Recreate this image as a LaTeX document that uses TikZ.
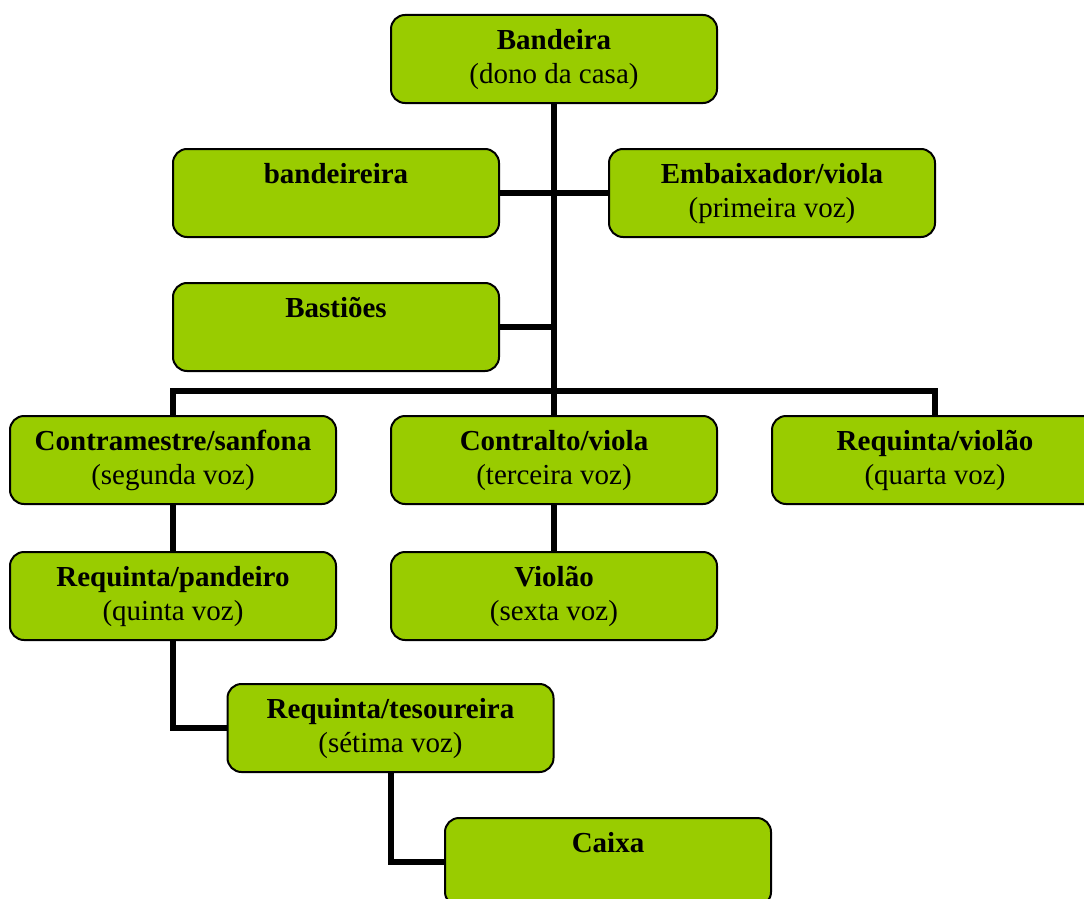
\documentclass[tikz,border=0pt]{standalone}
\usepackage{fontspec}
\setmainfont{Liberation Serif}
\usetikzlibrary{positioning}
\definecolor{rolegreen}{HTML}{99CC00}
% two-line text, set from the top of the box
\newcommand{\roletext}[2]{\parbox[c][88pt][t]{316pt}{\centering\rule{0pt}{34pt}\textbf{#1}\par #2}}

\tikzset{
  role/.style={draw=black, line width=2pt, fill=rolegreen, rounded corners=14pt,
    inner sep=0pt, minimum width=326pt, minimum height=88pt},
  link/.style={line width=6pt, line join=miter}
}

\begin{document}
\begin{tikzpicture}[x=1pt, y=-1pt, font=\fontsize{29}{34}\selectfont]
	\path[use as bounding box, clip] (0,0) rectangle (1084,899);
	%% top of the tree
	\node[role] (band) at (554,59) {\roletext{Bandeira}{(dono da casa)}};
	\node[role] (bdr) at (336,193) {\roletext{bandeireira}{}};
	\node[role] (emb) at (772,193) {\roletext{Embaixador/viola}{(primeira voz)}};
	\node[role] (bast) at (336,327) {\roletext{Bastiões}{}};
	%% voices
	\node[role] (ctl) at (554,460) {\roletext{Contralto/viola}{(terceira voz)}};
	\node[role, left =53pt of ctl] (ctm) {\roletext{Contramestre/sanfona}{(segunda voz)}};
	\node[role, right =53pt of ctl] (rqv) {\roletext{Requinta/violão}{(quarta voz)}};
	\node[role, below =46pt of ctm] (rqp) {\roletext{Requinta/pandeiro}{(quinta voz)}};
	\node[role, below =46pt of ctl] (vio) {\roletext{Violão}{(sexta voz)}};
	\node[role] (rqt) at (390.5,728) {\roletext{Requinta/tesoureira}{(sétima voz)}};
	\node[role] (cx) at (608,862) {\roletext{Caixa}{}};
	\coordinate (bar) at (554,391);
	% ligações
	\draw[link] (band.south) -- (bar);
	\draw[link] (bdr.east) -- (emb.west);
	\draw[link] (bast.east) -- (bast.east -| bar);
	\draw[link] (ctm.north) |- (bar) -| (rqv.north);
	\draw[link] (bar) -- (ctl.north);
	\draw[link] (ctm.south) -- (rqp.north);
	\draw[link] (ctl.south) -- (vio.north);
	\draw[link] (rqp.south) |- (rqt.west);
	\draw[link] (rqt.south) |- (cx.west);
\end{tikzpicture}
\end{document}
